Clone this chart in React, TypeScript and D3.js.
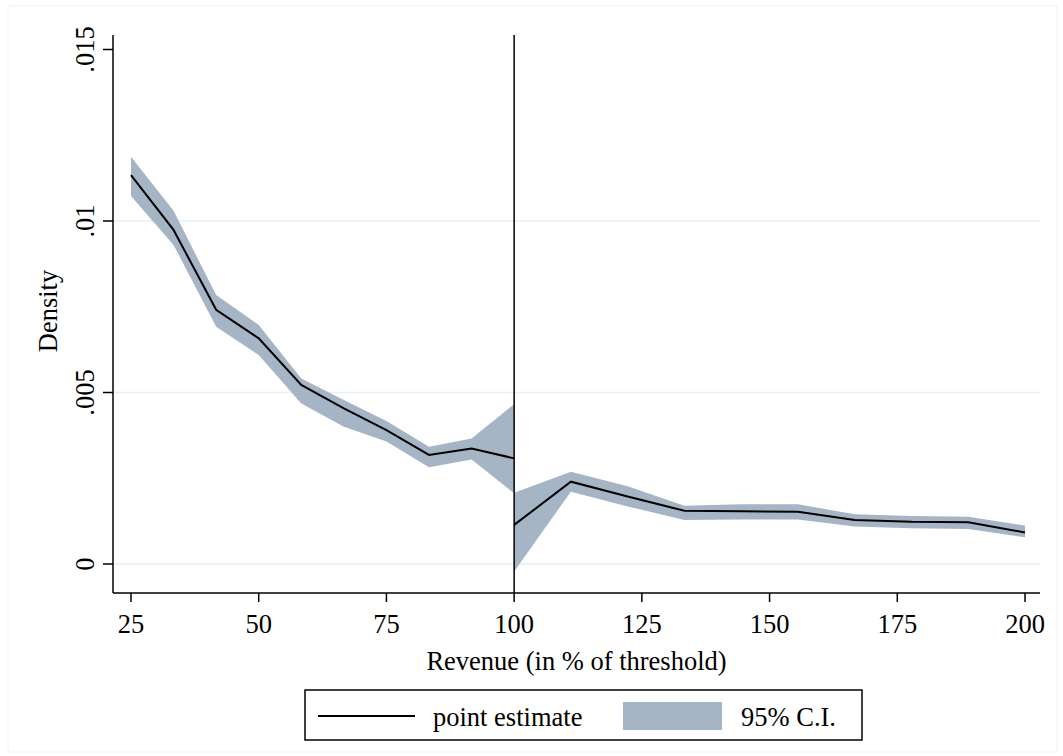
import * as d3 from "d3";

// revenue bins (% of threshold), left and right of the 100% cutoff
const leftX = [25, 33.33, 41.67, 50, 58.33, 66.67, 75, 83.33, 91.67, 100];
const leftEst = [0.01134, 0.00974, 0.00741, 0.00658, 0.00522, 0.00454, 0.0039, 0.00318, 0.00337, 0.00308];
const leftLo = [0.01073, 0.0093, 0.00692, 0.00609, 0.00468, 0.004, 0.00357, 0.00282, 0.00305, 0.00206];
const leftHi = [0.01187, 0.0103, 0.00784, 0.00697, 0.00541, 0.00478, 0.00417, 0.00342, 0.00366, 0.00466];

const rightX = [100, 111.11, 122.22, 133.33, 144.44, 155.56, 166.67, 177.78, 188.89, 200];
const rightEst = [0.00114, 0.0024, 0.00197, 0.00155, 0.00154, 0.00152, 0.00128, 0.00123, 0.00122, 0.00092];
const rightLo = [-0.00022, 0.00211, 0.00168, 0.00128, 0.0013, 0.0013, 0.00109, 0.00104, 0.00102, 0.00078];
const rightHi = [0.00208, 0.00269, 0.00227, 0.0017, 0.00174, 0.00174, 0.00145, 0.0014, 0.00138, 0.00112];

const xTicks = [25, 50, 75, 100, 125, 150, 175, 200];
const yTicks = [0, 0.005, 0.01, 0.015];
const yTickLabels = ["0", ".005", ".01", ".015"];
const cutoff = 100;

const FONT = "'Liberation Serif', 'Times New Roman', serif";
const CI_FILL = "#a5b5c5";
const GRID = "#e8f0f2";
const FS = 26.5;

type Pt = { x: number; est: number; lo: number; hi: number };

const toPts = (xs: number[], e: number[], lo: number[], hi: number[]): Pt[] =>
  xs.map((x, i) => ({ x, est: e[i], lo: lo[i], hi: hi[i] }));

export default function App() {
  const width = 1063;
  const height = 756;
  const plot = { left: 113, right: 1040, top: 35, bottom: 593 };

  const x = d3.scaleLinear().domain([25, 200]).range([131, 1025]);
  const y = d3.scaleLinear().domain([0, 0.01]).range([564, 221]);

  const segments = [toPts(leftX, leftEst, leftLo, leftHi), toPts(rightX, rightEst, rightLo, rightHi)];

  const area = d3
    .area<Pt>()
    .x((d) => x(d.x))
    .y0((d) => y(d.lo))
    .y1((d) => y(d.hi));
  const line = d3
    .line<Pt>()
    .x((d) => x(d.x))
    .y((d) => y(d.est));

  return (
    <svg
      width={width}
      height={height}
      style={{ position: "absolute", left: 0, top: 0, background: "#fff" }}
      fontFamily={FONT}
    >
      <rect x={8} y={6} width={width - 14} height={height - 10} fill="none" stroke="#f2f2f2" />

      {/* gridlines */}
      {yTicks.slice(0, 3).map((t) => (
        <line key={t} x1={plot.left} x2={plot.right} y1={y(t)} y2={y(t)} stroke={GRID} strokeWidth={1.5} />
      ))}

      {/* confidence bands */}
      {segments.map((s, i) => (
        <path key={"a" + i} d={area(s) ?? ""} fill={CI_FILL} />
      ))}

      {/* cutoff line */}
      <line x1={x(cutoff)} x2={x(cutoff)} y1={plot.top} y2={plot.bottom} stroke="#000" strokeWidth={1.5} />

      {/* point estimates */}
      {segments.map((s, i) => (
        <path key={"l" + i} d={line(s) ?? ""} fill="none" stroke="#000" strokeWidth={2} />
      ))}

      {/* y axis */}
      <line x1={plot.left} x2={plot.left} y1={plot.top} y2={plot.bottom} stroke="#000" strokeWidth={1.5} />
      {yTicks.map((t, i) => (
        <g key={t}>
          <line x1={plot.left - 10} x2={plot.left} y1={y(t)} y2={y(t)} stroke="#000" strokeWidth={1.5} />
          <text
            transform={`translate(${plot.left - 19},${y(t)}) rotate(-90)`}
            textAnchor="middle"
            fontSize={FS}
            fill="#000"
          >
            {yTickLabels[i]}
          </text>
        </g>
      ))}
      <text transform={`translate(57,${(plot.top + plot.bottom) / 2 - 3}) rotate(-90)`} textAnchor="middle" fontSize={FS}>
        Density
      </text>

      {/* x axis */}
      <line x1={plot.left} x2={plot.right} y1={plot.bottom} y2={plot.bottom} stroke="#000" strokeWidth={1.5} />
      {xTicks.map((t) => (
        <g key={t}>
          <line x1={x(t)} x2={x(t)} y1={plot.bottom} y2={plot.bottom + 9} stroke="#000" strokeWidth={1.5} />
          <text x={x(t)} y={plot.bottom + 40} textAnchor="middle" fontSize={FS}>
            {t}
          </text>
        </g>
      ))}
      <text x={(plot.left + plot.right) / 2} y={670} textAnchor="middle" fontSize={FS}>
        Revenue (in % of threshold)
      </text>

      {/* legend */}
      <g>
        <rect x={305} y={690} width={557} height={50} fill="#fff" stroke="#000" strokeWidth={1.5} />
        <line x1={318} x2={415} y1={716} y2={716} stroke="#000" strokeWidth={2} />
        <text x={433} y={726} fontSize={FS}>
          point estimate
        </text>
        <rect x={623} y={702} width={99} height={28} fill={CI_FILL} />
        <text x={741} y={726} fontSize={FS}>
          95% C.I.
        </text>
      </g>
    </svg>
  );
}
